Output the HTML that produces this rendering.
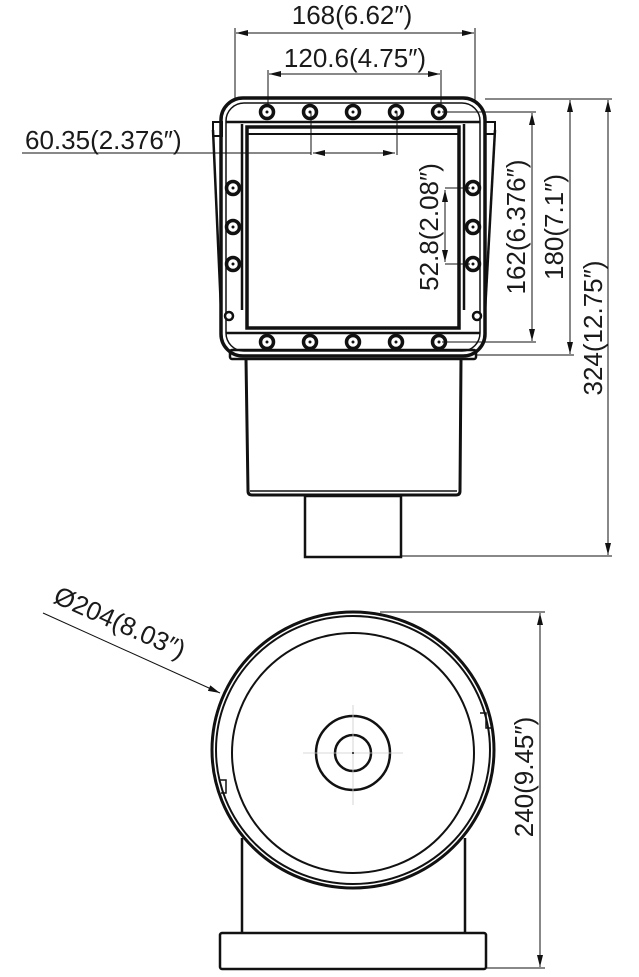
<!DOCTYPE html>
<html><head><meta charset="utf-8"><style>
html,body{margin:0;padding:0;background:#fff;}
svg{display:block;}
text{font-family:"Liberation Sans",sans-serif;font-size:26px;fill:#1a1a1a;}
</style></head><body>
<svg width="639" height="977" viewBox="0 0 639 977" xmlns="http://www.w3.org/2000/svg">
<defs>
<marker id="a" viewBox="0 0 12 6" refX="12" refY="3" markerWidth="12" markerHeight="6" orient="auto-start-reverse" markerUnits="userSpaceOnUse">
<path d="M0,0 L12,3 L0,6 z" fill="#111"/></marker>
</defs>
<g stroke="#111" fill="none">
<path d="M213,122 L222,122 L222,136 L213,136 Z" stroke-width="2"/>
<path d="M213,130 L221,310" stroke-width="2.5"/>
<path d="M485,122 L495,122 L495,134 L485,134 Z" stroke-width="2"/>
<path d="M495,130 L485,312" stroke-width="2.5"/>
<rect x="221" y="98" width="264" height="258" rx="22" stroke-width="3.5"/>
<rect x="226" y="103" width="254" height="248" rx="18" stroke-width="1.5"/>
<line x1="226" y1="122" x2="480" y2="122" stroke-width="2.5"/>
<line x1="226" y1="333" x2="480" y2="333" stroke-width="2.5"/>
<line x1="242" y1="124" x2="242" y2="310" stroke-width="2.5"/>
<line x1="464" y1="124" x2="464" y2="310" stroke-width="2.5"/>
<rect x="247" y="127" width="212" height="201" stroke-width="3.5"/>
<line x1="247" y1="134" x2="459" y2="134" stroke-width="2"/>
<rect x="230" y="350" width="246" height="9" rx="2" stroke-width="2.5"/>
<path d="M246,359 L248,491 Q248,495 252,495 L456,495 Q460,495 460,491 L461,359" stroke-width="3"/>
<line x1="250" y1="491" x2="457" y2="491" stroke-width="1.5"/>
<rect x="305" y="496" width="96" height="61" stroke-width="2.5"/>
</g>
<g stroke="#111" fill="#fff">
<g stroke-width="3.5">
<circle cx="267" cy="112" r="6.5"/><circle cx="310" cy="112" r="6.5"/><circle cx="353" cy="112" r="6.5"/><circle cx="396" cy="112" r="6.5"/><circle cx="439" cy="112" r="6.5"/>
<circle cx="267" cy="342" r="6.5"/><circle cx="310" cy="342" r="6.5"/><circle cx="353" cy="342" r="6.5"/><circle cx="396" cy="342" r="6.5"/><circle cx="439" cy="342" r="6.5"/>
<circle cx="233" cy="188" r="6.5"/><circle cx="233" cy="227" r="6.5"/><circle cx="233" cy="264" r="6.5"/>
<circle cx="473" cy="188" r="6.5"/><circle cx="473" cy="227" r="6.5"/><circle cx="473" cy="264" r="6.5"/>
</g>
<g stroke-width="2.5">
<circle cx="229" cy="316" r="4"/><circle cx="477" cy="316" r="4"/>
</g>
</g>
<g fill="#111">
<circle cx="267" cy="112" r="1.5"/><circle cx="310" cy="112" r="1.5"/><circle cx="353" cy="112" r="1.5"/><circle cx="396" cy="112" r="1.5"/><circle cx="439" cy="112" r="1.5"/>
<circle cx="267" cy="342" r="1.5"/><circle cx="310" cy="342" r="1.5"/><circle cx="353" cy="342" r="1.5"/><circle cx="396" cy="342" r="1.5"/><circle cx="439" cy="342" r="1.5"/>
<circle cx="233" cy="188" r="1.5"/><circle cx="233" cy="227" r="1.5"/><circle cx="233" cy="264" r="1.5"/>
<circle cx="473" cy="188" r="1.5"/><circle cx="473" cy="227" r="1.5"/><circle cx="473" cy="264" r="1.5"/>
</g>

<g stroke="#111" stroke-width="1" fill="none">
<line x1="235" y1="28" x2="235" y2="100"/>
<line x1="475" y1="28" x2="475" y2="100"/>
<line x1="236" y1="33" x2="474" y2="33" marker-start="url(#a)" marker-end="url(#a)"/>
<line x1="268" y1="70" x2="268" y2="106"/>
<line x1="441" y1="70" x2="441" y2="106"/>
<line x1="269" y1="74" x2="440" y2="74" marker-start="url(#a)" marker-end="url(#a)"/>
<line x1="22" y1="153" x2="311" y2="153"/>
<line x1="311" y1="112" x2="311" y2="155"/>
<line x1="397" y1="112" x2="397" y2="155"/>
<line x1="313" y1="153" x2="395" y2="153" marker-start="url(#a)" marker-end="url(#a)"/>
<line x1="445" y1="188" x2="470" y2="188"/>
<line x1="445" y1="264" x2="470" y2="264"/>
<line x1="445" y1="190" x2="445" y2="262" marker-start="url(#a)" marker-end="url(#a)"/>
<line x1="442" y1="112" x2="536" y2="112"/>
<line x1="442" y1="342" x2="536" y2="342"/>
<line x1="532" y1="113" x2="532" y2="341" marker-start="url(#a)" marker-end="url(#a)"/>
<line x1="485" y1="99" x2="612" y2="99"/>
<line x1="476" y1="355" x2="574" y2="355"/>
<line x1="570" y1="100" x2="570" y2="354" marker-start="url(#a)" marker-end="url(#a)"/>
<line x1="401" y1="556" x2="612" y2="556"/>
<line x1="608" y1="100" x2="608" y2="555" marker-start="url(#a)" marker-end="url(#a)"/>
</g>
<text x="352" y="24" text-anchor="middle">168(6.62″)</text>
<text x="355" y="67" text-anchor="middle">120.6(4.75″)</text>
<text x="25" y="149">60.35(2.376″)</text>
<text transform="translate(438,227) rotate(-90)" text-anchor="middle">52.8(2.08″)</text>
<text transform="translate(525,227) rotate(-90)" text-anchor="middle">162(6.376″)</text>
<text transform="translate(563,227) rotate(-90)" text-anchor="middle">180(7.1″)</text>
<text transform="translate(602,328) rotate(-90)" text-anchor="middle">324(12.75″)</text>

<g stroke="#111" fill="none">
<line x1="242" y1="838" x2="242" y2="934" stroke-width="2.5"/>
<line x1="465" y1="838" x2="465" y2="934" stroke-width="2.5"/>
<rect x="220" y="933" width="266" height="36" rx="2" stroke-width="2.5"/>
<ellipse cx="353" cy="750" rx="141" ry="138" stroke-width="3"/>
<ellipse cx="353" cy="750" rx="137" ry="134" stroke-width="2"/>
<ellipse cx="353" cy="753" rx="121" ry="120" stroke-width="2"/>
<circle cx="353" cy="753" r="37" stroke-width="2.5"/>
<circle cx="353" cy="753" r="18" stroke-width="2.5"/>
<path d="M480,713 L486,713 L486,728 L491,728" stroke-width="1.5"/>
<path d="M220,780 L226,780 L226,793 L221,793" stroke-width="1.5"/>
<g stroke="#ccc" stroke-width="0.8">
<line x1="353" y1="705" x2="353" y2="805"/>
<line x1="303" y1="753" x2="403" y2="753"/>
</g>
<g stroke-width="1">
<line x1="380" y1="612" x2="545" y2="612"/>
<line x1="486" y1="968" x2="545" y2="968"/>
<line x1="540" y1="613" x2="540" y2="967" marker-start="url(#a)" marker-end="url(#a)"/>
<line x1="43" y1="613" x2="220" y2="693" marker-end="url(#a)"/>
</g>
</g>
<circle cx="353" cy="753" r="1" fill="#111"/>
<text transform="translate(533,777) rotate(-90)" text-anchor="middle">240(9.45″)</text>
<text transform="translate(52,602) rotate(24)">Ø204(8.03″)</text>
</svg>
</body></html>
